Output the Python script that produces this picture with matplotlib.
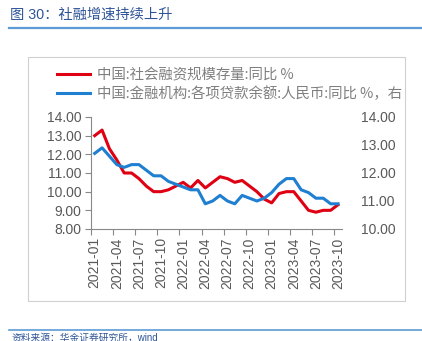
import matplotlib.pyplot as plt
from matplotlib.lines import Line2D
from matplotlib.patches import Rectangle
import numpy as np

plt.rcParams['font.family'] = ['Liberation Sans', 'Noto Sans CJK SC', 'DejaVu Sans']

months = ['2021-01', '2021-02', '2021-03', '2021-04', '2021-05', '2021-06',
          '2021-07', '2021-08', '2021-09', '2021-10', '2021-11', '2021-12',
          '2022-01', '2022-02', '2022-03', '2022-04', '2022-05', '2022-06',
          '2022-07', '2022-08', '2022-09', '2022-10', '2022-11', '2022-12',
          '2023-01', '2023-02', '2023-03', '2023-04', '2023-05', '2023-06',
          '2023-07', '2023-08', '2023-09', '2023-10']
# 社会融资规模存量 同比 (左轴)
tsf = [13.0, 13.3, 12.3, 11.7, 11.0, 11.0, 10.7, 10.3, 10.0, 10.0, 10.1, 10.3,
       10.5, 10.2, 10.6, 10.2, 10.5, 10.8, 10.7, 10.5, 10.6, 10.3, 10.0, 9.6,
       9.4, 9.9, 10.0, 10.0, 9.5, 9.0, 8.9, 9.0, 9.0, 9.3]
# 金融机构各项贷款余额 人民币 同比 (右轴)
loans = [12.7, 12.9, 12.6, 12.3, 12.2, 12.3, 12.3, 12.1, 11.9, 11.9, 11.7, 11.6,
         11.5, 11.4, 11.4, 10.9, 11.0, 11.2, 11.0, 10.9, 11.2, 11.1, 11.0, 11.1,
         11.3, 11.6, 11.8, 11.8, 11.4, 11.3, 11.1, 11.1, 10.9, 10.9]
name_tsf = '中国:社会融资规模存量:同比 %'
name_loans = '中国:金融机构:各项贷款余额:人民币:同比 %，右'

W, H = 422, 341
fig = plt.figure(figsize=(W / 100, H / 100), dpi=100)

def fx(px):
    return px / W

def fy(py):
    return 1 - py / H

# 标题和分隔线
fig.text(fx(10), fy(15), '图 30：社融增速持续上升', fontsize=10.3,
         color='#2f5597', va='center', ha='left')
fig.add_artist(Line2D([fx(9), 1], [fy(28), fy(28)], color='#5b9bd5', lw=1.6))
fig.add_artist(Line2D([fx(9), 1], [fy(330), fy(330)], color='#5b9bd5', lw=1.2))
fig.text(fx(12), fy(332.5), '资料来源：华金证券研究所，wind', fontsize=7,
         color='#2f5597', va='top', ha='left')
fig.add_artist(Rectangle((fx(28), fy(301)), fx(405) - fx(28), fy(57) - fy(301),
                         fill=False, ec='#d0d0d0', lw=0.8))

ax = fig.add_axes([fx(91), fy(229), fx(341.7) - fx(91), fy(117) - fy(229)])
ax2 = ax.twinx()

x = np.arange(len(months))
l1, = ax.plot(x, tsf, color='#e00013', lw=2.2)
l2, = ax2.plot(x, loans, color='#1f7fd0', lw=2.2)

ax.set_xlim(-0.5, len(months) - 0.5)
ax.set_ylim(8, 14)
ax2.set_ylim(10, 14)
ax.set_yticks(np.arange(8, 14.1, 1))
ax2.set_yticks(np.arange(10, 14.1, 1))
ax.set_yticklabels(['%.2f' % v for v in np.arange(8, 14.1, 1)])
ax2.set_yticklabels(['%.2f' % v for v in np.arange(10, 14.1, 1)])

major = x[::3]
ax.set_xticks(major)
ax.set_xticklabels([months[i] for i in major], rotation=90)
ax.set_xticks(major - 0.5, minor=True)
ax.tick_params(axis='x', which='major', length=0, pad=6)
ax.tick_params(axis='x', which='minor', length=4, color='#888888', width=0.8)

tick_color = '#595959'
ax.tick_params(axis='both', labelsize=10, labelcolor=tick_color)
ax.tick_params(axis='y', length=4, color='#888888', width=0.8, pad=3)
ax2.tick_params(axis='y', length=0, labelsize=10, labelcolor=tick_color, pad=14)

for a in (ax, ax2):
    for s in ('top', 'right'):
        a.spines[s].set_visible(False)
ax2.spines['left'].set_visible(False)
ax2.spines['bottom'].set_visible(False)
ax.spines['left'].set_color('#888888')
ax.spines['bottom'].set_color('#888888')
ax.spines['left'].set_linewidth(0.8)
ax.spines['bottom'].set_linewidth(0.8)

leg = fig.legend([l1, l2], [name_tsf, name_loans], loc='upper left',
                 bbox_to_anchor=(fx(57), fy(68)), frameon=False,
                 fontsize=10.4, handlelength=2.3, handletextpad=0.45,
                 labelspacing=0.3, borderaxespad=0, borderpad=0)
for t in leg.get_texts():
    t.set_color('#7f7f7f')
    t.set_family(['Noto Sans CJK SC', 'DejaVu Sans'])

fig.savefig('out.png', dpi=100)
